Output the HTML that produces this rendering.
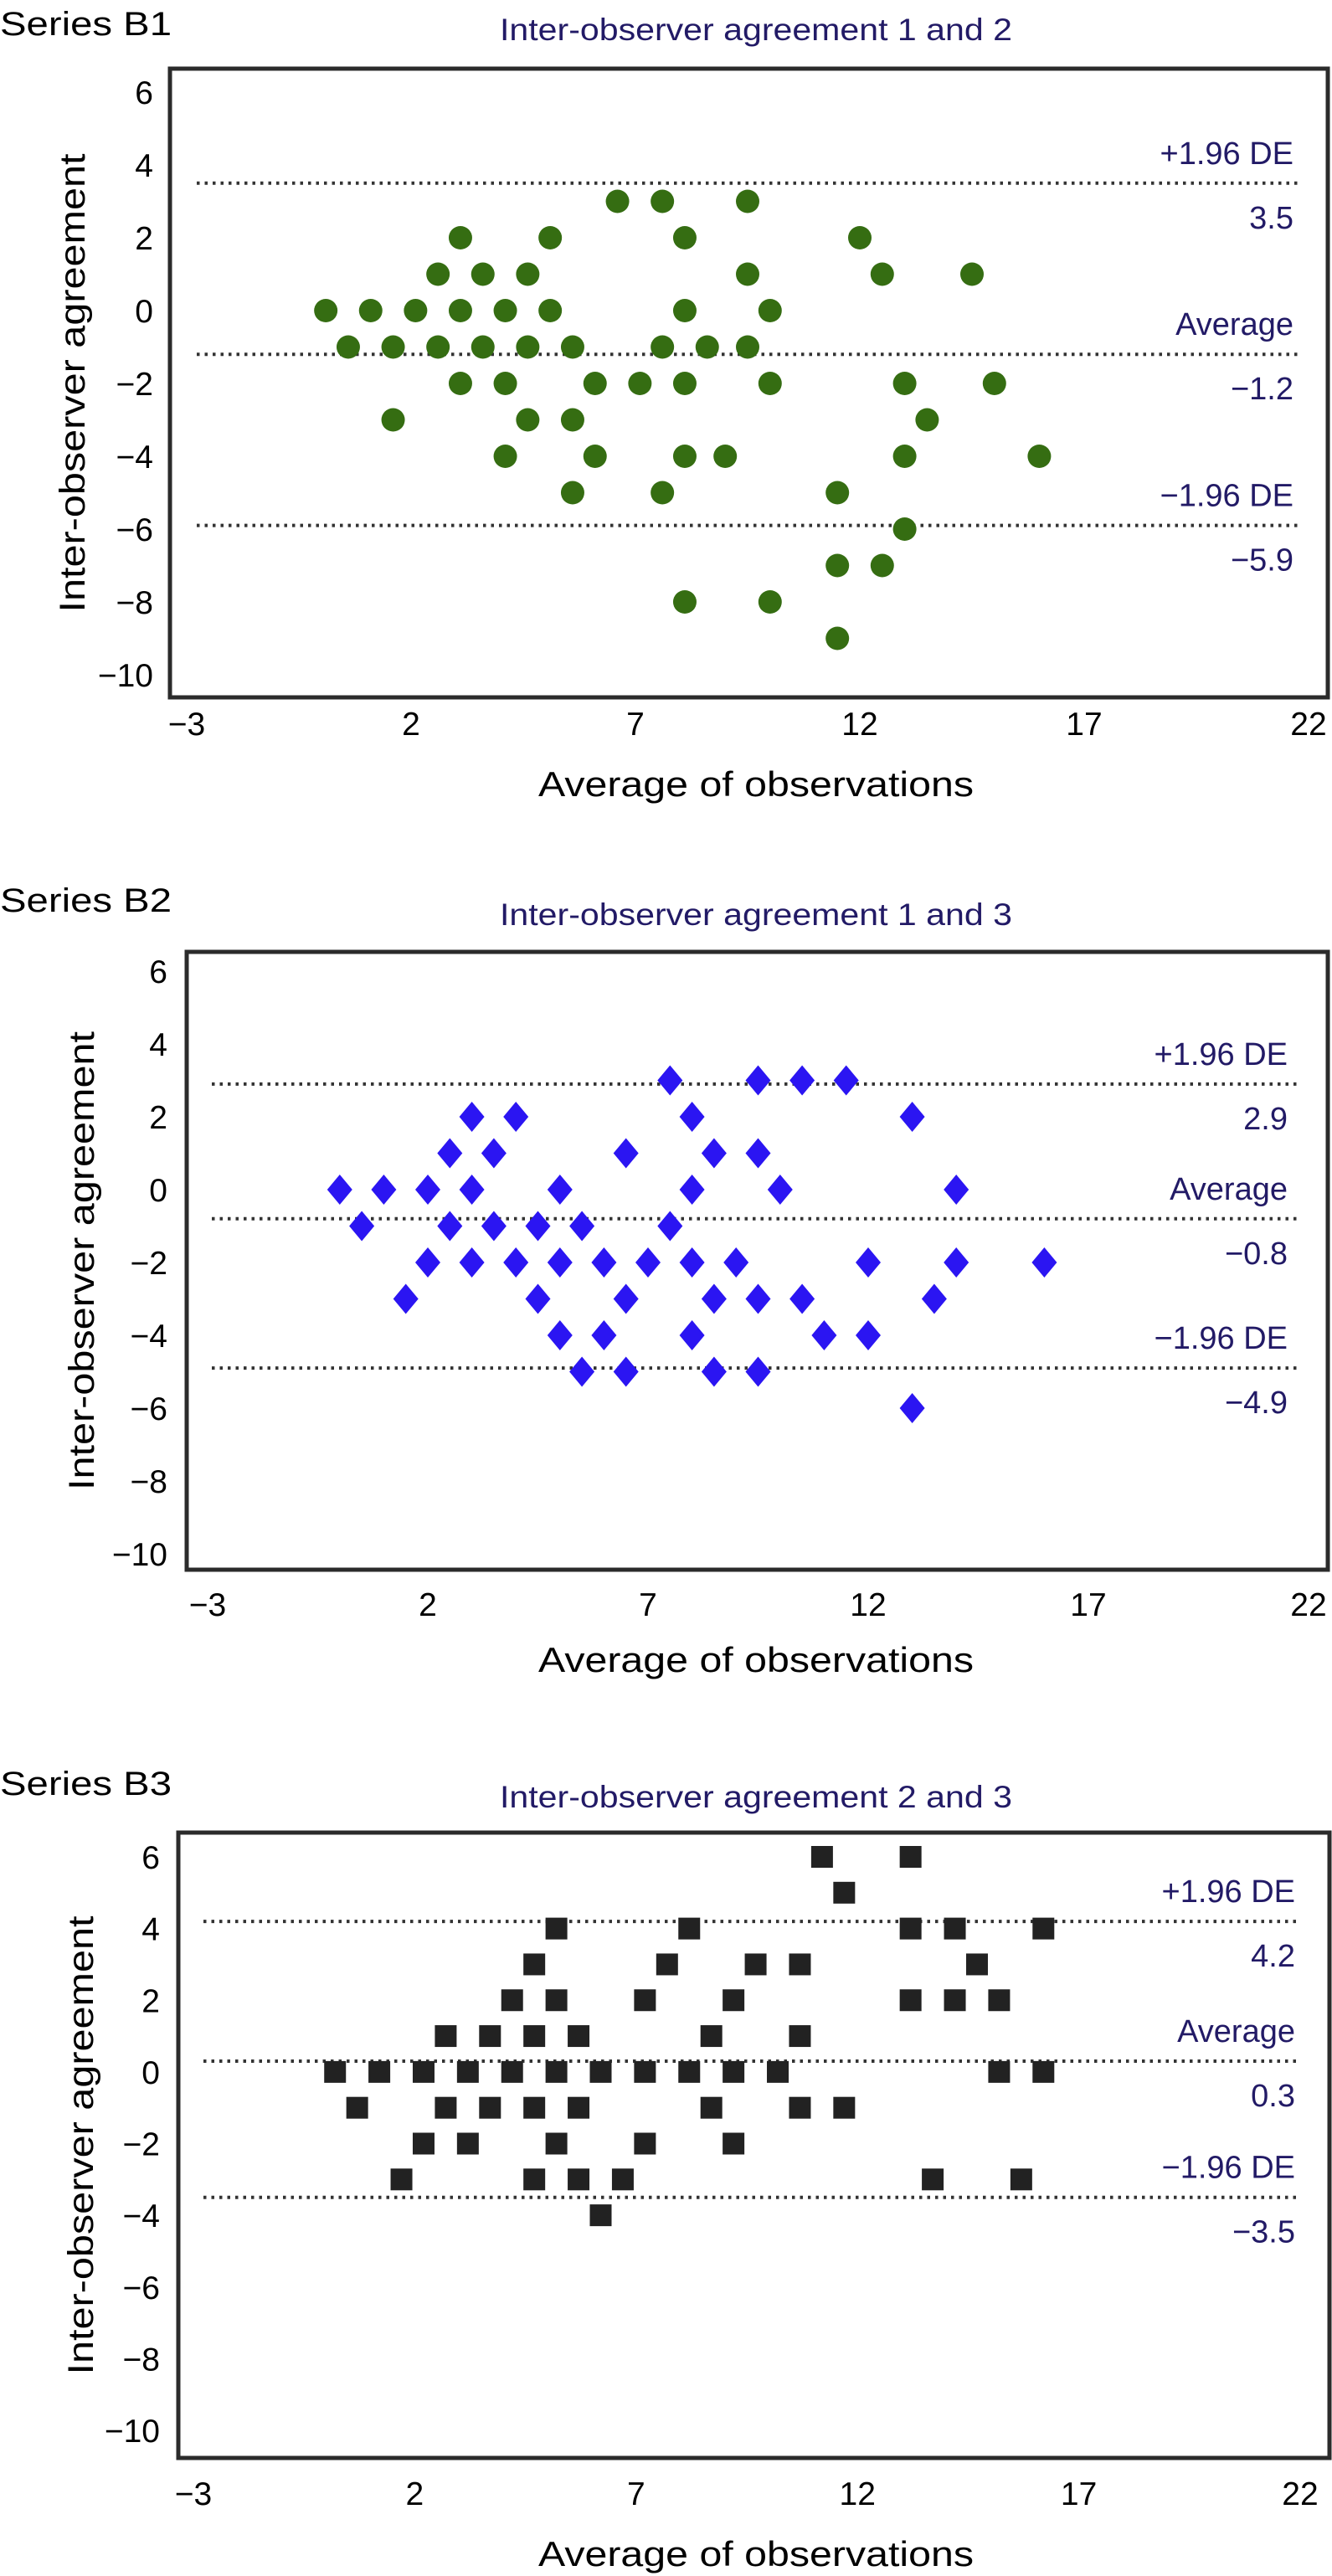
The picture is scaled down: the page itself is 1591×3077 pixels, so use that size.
<!DOCTYPE html>
<html><head><meta charset="utf-8"><title>Inter-observer agreement (Bland-Altman plots)</title>
<style>
html,body{margin:0;padding:0;background:#fff;}
svg{display:block;}
text{font-family:"Liberation Sans",Arial,sans-serif;}
</style></head>
<body>
<svg id="fig" xmlns="http://www.w3.org/2000/svg" width="1591" height="3077" viewBox="0 0 1591 3077"></svg>
<script>
// ---- data ----
const xTicks = [-3, 2, 7, 12, 17, 22];
const yTicks = [6, 4, 2, 0, -2, -4, -6, -8, -10];
const yTickLabels = ["6","4","2","0","\u22122","\u22124","\u22126","\u22128","\u221210"];
const xTickLabels = ["\u22123","2","7","12","17","22"];

const b1X = [6.6,7.6,9.5, 3.1,5.1,8.1,12.0, 2.6,3.6,4.6,9.5,12.5,14.5,
  0.1,1.1,2.1,3.1,4.1,5.1,8.1,10.0, 0.6,1.6,2.6,3.6,4.6,5.6,7.6,8.6,9.5,
  3.1,4.1,6.1,7.1,8.1,10.0,13.0,15.0, 1.6,4.6,5.6,13.5, 4.1,6.1,8.1,9.0,13.0,16.0,
  5.6,7.6,11.5, 13.0, 11.5,12.5, 8.1,10.0, 11.5];
const b1Y = [3,3,3, 2,2,2,2, 1,1,1,1,1,1,
  0,0,0,0,0,0,0,0, -1,-1,-1,-1,-1,-1,-1,-1,-1,
  -2,-2,-2,-2,-2,-2,-2,-2, -3,-3,-3,-3, -4,-4,-4,-4,-4,-4,
  -5,-5,-5, -6, -7,-7, -8,-8, -9];
const b1Lines = [3.5, -1.2, -5.9];
const b1LineLabels = ["3.5", "\u22121.2", "\u22125.9"];

const b2X = [7.5,9.5,10.5,11.5, 3.0,4.0,8.0,13.0, 2.5,3.5,6.5,8.5,9.5,
  0.0,1.0,2.0,3.0,5.0,8.0,10.0,14.0, 0.5,2.5,3.5,4.5,5.5,7.5,
  2.0,3.0,4.0,5.0,6.0,7.0,8.0,9.0,12.0,14.0,16.0, 1.5,4.5,6.5,8.5,9.5,10.5,13.5,
  5.0,6.0,8.0,11.0,12.0, 5.5,6.5,8.5,9.5, 13.0];
const b2Y = [3,3,3,3, 2,2,2,2, 1,1,1,1,1,
  0,0,0,0,0,0,0,0, -1,-1,-1,-1,-1,-1,
  -2,-2,-2,-2,-2,-2,-2,-2,-2,-2,-2, -3,-3,-3,-3,-3,-3,-3,
  -4,-4,-4,-4,-4, -5,-5,-5,-5, -6];
const b2Lines = [2.9, -0.8, -4.9];
const b2LineLabels = ["2.9", "\u22120.8", "\u22124.9"];

const b3X = [11.2,13.2, 11.7, 5.2,8.2,13.2,14.2,16.2, 4.7,7.7,9.7,10.7,14.7,
  4.2,5.2,7.2,9.2,13.2,14.2,15.2, 2.7,3.7,4.7,5.7,8.7,10.7,
  0.2,1.2,2.2,3.2,4.2,5.2,6.2,7.2,8.2,9.2,10.2,15.2,16.2,
  0.7,2.7,3.7,4.7,5.7,8.7,10.7,11.7, 2.2,3.2,5.2,7.2,9.2,
  1.7,4.7,5.7,6.7,13.7,15.7, 6.2];
const b3Y = [6,6, 5, 4,4,4,4,4, 3,3,3,3,3,
  2,2,2,2,2,2,2, 1,1,1,1,1,1,
  0,0,0,0,0,0,0,0,0,0,0,0,0,
  -1,-1,-1,-1,-1,-1,-1,-1, -2,-2,-2,-2,-2,
  -3,-3,-3,-3,-3,-3, -4];
const b3Lines = [4.2, 0.3, -3.5];
const b3LineLabels = ["4.2", "0.3", "\u22123.5"];

// ---- layout (pixel geometry per panel) ----
const panels = [
  {id:"b1", series:"Series B1", title:"Inter-observer agreement 1 and 2", xs:b1X, ys:b1Y, lines:b1Lines, lineLabels:b1LineLabels,
   marker:"circle", color:"#356d12",
   box:[203,82,1586,833], x0:223, x1:1563, y0:110, y1:806, tickRight:183,
   seriesY:42, titleY:48, yTitleX:86, xTickY:864, xTitleY:951, lineX:[235,1553], labRight:1545},
  {id:"b2", series:"Series B2", title:"Inter-observer agreement 1 and 3", xs:b2X, ys:b2Y, lines:b2Lines, lineLabels:b2LineLabels,
   marker:"diamond", color:"#2b15f2",
   box:[223,1137,1586,1875], x0:248, x1:1563, y0:1160, y1:1856, tickRight:200,
   seriesY:1089, titleY:1105, yTitleX:97, xTickY:1916, xTitleY:1997, lineX:[253,1552], labRight:1538},
  {id:"b3", series:"Series B3", title:"Inter-observer agreement 2 and 3", xs:b3X, ys:b3Y, lines:b3Lines, lineLabels:b3LineLabels,
   marker:"square", color:"#222222",
   box:[213,2189,1588,2936], x0:231, x1:1553, y0:2218, y1:2903, tickRight:191,
   seriesY:2144, titleY:2159, yTitleX:96, xTickY:2978, xTitleY:3065, lineX:[243,1553], labRight:1547}
];
const lineNames = ["upper-limit","average","lower-limit"];
const lineTitles = ["+1.96 DE","Average","\u22121.96 DE"];

const NS = "http://www.w3.org/2000/svg";
const svg = document.getElementById("fig");
function mk(tag, attrs, parent, txt){
  const e = document.createElementNS(NS, tag);
  for (const k in attrs) e.setAttribute(k, attrs[k]);
  if (txt !== undefined) e.textContent = txt;
  parent.appendChild(e);
  return e;
}

panels.forEach(p => {
  const xScale = v => p.x0 + (v - xTicks[0]) * (p.x1 - p.x0) / (xTicks[xTicks.length-1] - xTicks[0]);
  const yScale = v => p.y0 + (yTicks[0] - v) * (p.y1 - p.y0) / (yTicks[0] - yTicks[yTicks.length-1]);

  const g = mk("g", {}, svg);
  
  

  const st = mk("text", {x:0, y:p.seriesY, "font-size":40, fill:"#000", textLength:205, lengthAdjust:"spacingAndGlyphs"}, g, p.series);
  
  

  const tt = mk("text", {x:903, y:p.titleY, "font-size":37, fill:"#221a66", "text-anchor":"middle", textLength:612, lengthAdjust:"spacingAndGlyphs"}, g, p.title);
  
  

  const b = p.box;
  const fr = mk("rect", {x:b[0], y:b[1], width:b[2]-b[0], height:b[3]-b[1], fill:"#fff", stroke:"#2b2b2b", "stroke-width":5}, g);
  
  

  yTicks.forEach((v, i) => {
    const t = mk("text", {x:p.tickRight, y:yScale(v)+14, "font-size":39, "text-anchor":"end", fill:"#000"}, g, yTickLabels[i]);
    
    
  });
  xTicks.forEach((v, i) => {
    const t = mk("text", {x:xScale(v), y:p.xTickY+14, "font-size":39, "text-anchor":"middle", fill:"#000"}, g, xTickLabels[i]);
    
    
  });

  const cy = (b[1]+b[3])/2;
  const yt = mk("text", {x:0, y:0, "font-size":43, "text-anchor":"middle", fill:"#000", textLength:548, lengthAdjust:"spacingAndGlyphs",
     transform:"translate(" + (p.yTitleX+15) + "," + cy + ") rotate(-90)"}, g, "Inter-observer agreement");
  
  

  const xt = mk("text", {x:903, y:p.xTitleY, "font-size":42, "text-anchor":"middle", fill:"#000", textLength:520, lengthAdjust:"spacingAndGlyphs"}, g, "Average of observations");
  
  

  p.lines.forEach((v, i) => {
    const ly = yScale(v);
    const ln = mk("line", {x1:p.lineX[0], x2:p.lineX[1], y1:ly, y2:ly, stroke:"#333", "stroke-width":4, "stroke-dasharray":"3.5 6"}, g);
    
    
    const a = mk("text", {x:p.labRight, y:ly-36+13, "font-size":38, "text-anchor":"end", fill:"#221a66"}, g, lineTitles[i]);
    
    
    const c = mk("text", {x:p.labRight, y:ly+41+13, "font-size":38, "text-anchor":"end", fill:"#221a66"}, g, p.lineLabels[i]);
    
    
  });

  p.xs.forEach((xv, i) => {
    const px = xScale(xv), py = yScale(p.ys[i]);
    let m;
    if (p.marker === "circle") {
      m = mk("ellipse", {cx:px, cy:py, rx:14, ry:14, fill:p.color}, g);
    } else if (p.marker === "diamond") {
      m = mk("polygon", {points:(px)+","+(py-18)+" "+(px+15)+","+py+" "+px+","+(py+18)+" "+(px-15)+","+py, fill:p.color}, g);
    } else {
      m = mk("rect", {x:px-13, y:py-13, width:26, height:26, fill:p.color}, g);
    }
    
    
  });
});
</script>
</body></html>
